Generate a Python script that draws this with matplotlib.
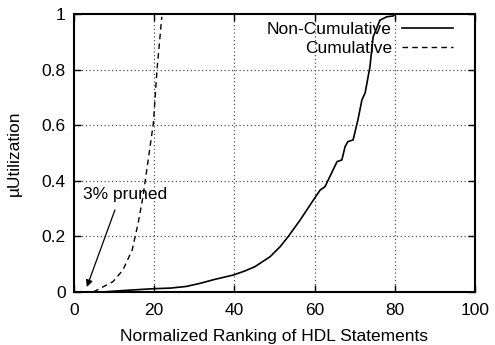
import numpy as np
import matplotlib
matplotlib.use("Agg")
import matplotlib.pyplot as plt

plt.rcParams['font.family'] = ['Liberation Sans', 'DejaVu Sans']

# Non-cumulative utilization vs. normalized ranking
noncum_x = [0, 7, 12, 20, 24, 28, 31.4, 35, 39.7, 42.5, 45.1, 48.9, 51.4, 53.4,
            56.4, 59.7, 61.4, 62.6, 63.8, 65.6, 66.8, 67.6, 68.3, 69.6, 70.8,
            71.8, 72.6, 73.8, 74.6, 76.3, 78, 79.6, 80, 100]
noncum_y = [0, 0, 0.005, 0.012, 0.014, 0.02, 0.031, 0.045, 0.061, 0.075, 0.091,
            0.127, 0.163, 0.199, 0.259, 0.331, 0.367, 0.379, 0.415, 0.469, 0.475,
            0.523, 0.541, 0.547, 0.619, 0.691, 0.716, 0.81, 0.918, 0.978, 0.99,
            0.993, 1.0, 1.0]

# Cumulative utilization
cum_x = [0, 4.8, 6.5, 9.7, 12.2, 14.5, 16, 17.2, 18.5, 19.8, 20.7, 21.9]
cum_y = [0, 0, 0.013, 0.037, 0.079, 0.151, 0.248, 0.343, 0.475, 0.608, 0.8, 0.99]

xticks = [0, 20, 40, 60, 80, 100]
yticks = [0, 0.2, 0.4, 0.6, 0.8, 1]
ytick_labels = ['0', '0.2', '0.4', '0.6', '0.8', '1']

fig = plt.figure(figsize=(4.95, 3.45), dpi=100)
ax = fig.add_axes([74 / 495, 53 / 345, 401 / 495, 278 / 345])

ax.plot(noncum_x, noncum_y, color='black', lw=1.2, label='Non-Cumulative')
ax.plot(cum_x, cum_y, color='black', lw=1.0, ls=(0, (4, 3)), label='Cumulative')

ax.set_xlim(0, 100)
ax.set_ylim(0, 1)
ax.set_xticks(xticks)
ax.set_yticks(yticks)
ax.set_yticklabels(ytick_labels)
ax.tick_params(direction='in', top=True, right=True, length=5, width=1,
               labelsize=12.5)
ax.tick_params(axis='x', pad=8)
ax.tick_params(axis='y', pad=6)
for s in ax.spines.values():
    s.set_linewidth(1.5)

# dotted grid only at interior ticks
for gx in xticks[1:-1]:
    ax.axvline(gx, color='#555555', ls=(0, (1, 2)), lw=0.9, zorder=0)
for gy in yticks[1:-1]:
    ax.axhline(gy, color='#555555', ls=(0, (1, 2)), lw=0.9, zorder=0)

ax.set_xlabel('Normalized Ranking of HDL Statements', fontsize=12.5, labelpad=8)
ax.set_ylabel('µUtilization', fontsize=12.5, labelpad=14)

ax.text(2.2, 0.35, '3% pruned', fontsize=12.5, va='center', ha='left')
ax.annotate('', xy=(3.2, 0.018), xytext=(10.2, 0.295),
            arrowprops=dict(arrowstyle='-|>', color='black', lw=0.9,
                            shrinkA=0, shrinkB=0, mutation_scale=10))

leg = ax.legend(loc='upper right', frameon=False, fontsize=12.5,
                markerfirst=False, handlelength=2.9, handletextpad=0.6,
                borderaxespad=0.2, labelspacing=0.2,
                bbox_to_anchor=(0.97, 1.008))
for t in leg.get_texts():
    t.set_ha('right')
leg._legend_box.align = 'right'

fig.savefig('out.png', dpi=100)
